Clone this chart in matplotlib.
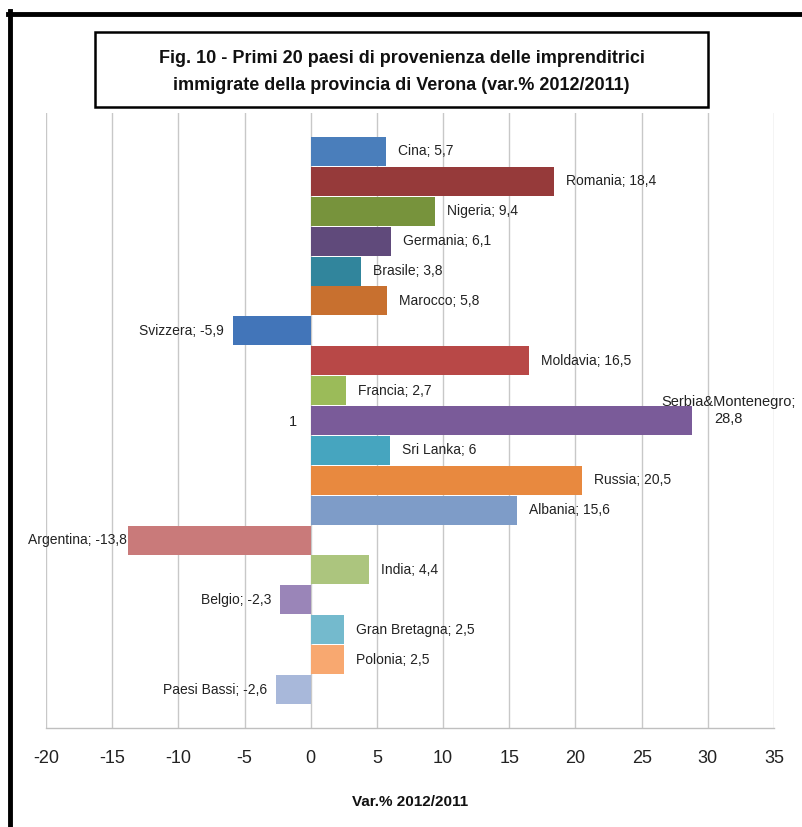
import matplotlib
matplotlib.use("Agg")
import matplotlib.pyplot as plt
from matplotlib.patches import Rectangle
from matplotlib.lines import Line2D

plt.rcParams['font.family'] = ['Liberation Sans Narrow', 'Liberation Sans', 'DejaVu Sans']

countries = ["Cina", "Romania", "Nigeria", "Germania", "Brasile", "Marocco",
             "Svizzera", "Moldavia", "Francia", "Serbia&Montenegro", "Sri Lanka",
             "Russia", "Albania", "Argentina", "India", "Belgio", "Gran Bretagna",
             "Polonia", "Paesi Bassi"]
values = [5.7, 18.4, 9.4, 6.1, 3.8, 5.8, -5.9, 16.5, 2.7, 28.8, 6.0,
          20.5, 15.6, -13.8, 4.4, -2.3, 2.5, 2.5, -2.6]
value_labels = ["5,7", "18,4", "9,4", "6,1", "3,8", "5,8", "-5,9", "16,5", "2,7",
                "28,8", "6", "20,5", "15,6", "-13,8", "4,4", "-2,3", "2,5", "2,5", "-2,6"]
colors = ["#4a7ebb", "#963a3a", "#77933c", "#604a7b", "#31859c", "#c8702f",
          "#4275b9", "#b84847", "#9bbb59", "#7a5b99", "#46a5bf", "#e8893f",
          "#7e9cc8", "#c97a7a", "#acc57e", "#9a85b8", "#74bacd", "#f8a870", "#a8b8da"]
category_label = "1"
x_ticks = [-20, -15, -10, -5, 0, 5, 10, 15, 20, 25, 30, 35]
title = "Fig. 10 - Primi 20 paesi di provenienza delle imprenditrici\nimmigrate della provincia di Verona (var.% 2012/2011)"
x_label = "Var.% 2012/2011"

W, H = 802, 827
fig = plt.figure(figsize=(W / 100, H / 100), dpi=100)
fig.patch.set_facecolor("white")

# axes placement (pixel coordinates)
ax_l, ax_r, ax_t, ax_b = 46, 774, 113, 728
ax = fig.add_axes([ax_l / W, 1 - ax_b / H, (ax_r - ax_l) / W, (ax_b - ax_t) / H])

n = len(values)
pos = list(range(n))
ax.barh(pos, values, height=0.97, color=colors, edgecolor="none", zorder=3)

margin = 0.785
ax.set_ylim(n - 0.5 + margin, -0.5 - margin)
ax.set_xlim(x_ticks[0], x_ticks[-1])
ax.set_xticks(x_ticks)
ax.set_xticklabels([str(t) for t in x_ticks], fontsize=13, color="#222222")
ax.tick_params(axis="x", length=0, pad=16)

ax.grid(axis="x", color="#c8c8c8", linewidth=1, zorder=0)
for s in ["top", "right", "left"]:
    ax.spines[s].set_visible(False)
ax.spines["bottom"].set_color("#bfbfbf")
ax.spines["bottom"].set_linewidth(1)

# category axis crossing at 0
ax.spines["left"].set_position(("data", 0))
ax.set_yticks([(n - 1) / 2])
ax.set_yticklabels([category_label], fontsize=10.5, color="#222222")
ax.tick_params(axis="y", length=0, pad=10)

ax.set_xlabel(x_label, fontsize=11, fontweight="bold", labelpad=20, color="#111111")

# data labels
for i, (c, v, vl) in enumerate(zip(countries, values, value_labels)):
    txt = f"{c}; {vl}"
    if c == "Serbia&Montenegro":
        ax.annotate(f"{c};\n{vl}", xy=(v, i), xytext=(37, 10), textcoords="offset pixels",
                    ha="center", va="center", fontsize=10.5, color="#222222",
                    linespacing=1.35, zorder=5)
    elif v >= 0:
        ax.annotate(txt, xy=(v, i), xytext=(12, 0), textcoords="offset pixels",
                    ha="left", va="center", fontsize=10, color="#222222", zorder=5)
    else:
        off = -1 if v < -10 else -9
        ax.annotate(txt, xy=(v, i), xytext=(off, 0), textcoords="offset pixels",
                    ha="right", va="center", fontsize=10, color="#222222", zorder=5)

# outer frame (left and top thick borders)
fig.add_artist(Line2D([10 / W, 10 / W], [0, 1 - 11 / H], color="black", linewidth=3.5,
                      transform=fig.transFigure))
fig.add_artist(Line2D([8 / W, 1], [1 - 13.5 / H, 1 - 13.5 / H], color="black", linewidth=3.5,
                      transform=fig.transFigure))

# title box
bx0, bx1, by0, by1 = 95, 708, 32, 107
fig.add_artist(Rectangle((bx0 / W, 1 - by1 / H), (bx1 - bx0) / W, (by1 - by0) / H,
                         fill=False, edgecolor="black", linewidth=1.8,
                         transform=fig.transFigure))
fig.text((bx0 + bx1) / 2 / W, 1 - 72 / H, title, ha="center", va="center",
         fontsize=13, fontweight="bold", linespacing=1.7, color="#111111")

fig.savefig("out.png", dpi=100, facecolor="white")
